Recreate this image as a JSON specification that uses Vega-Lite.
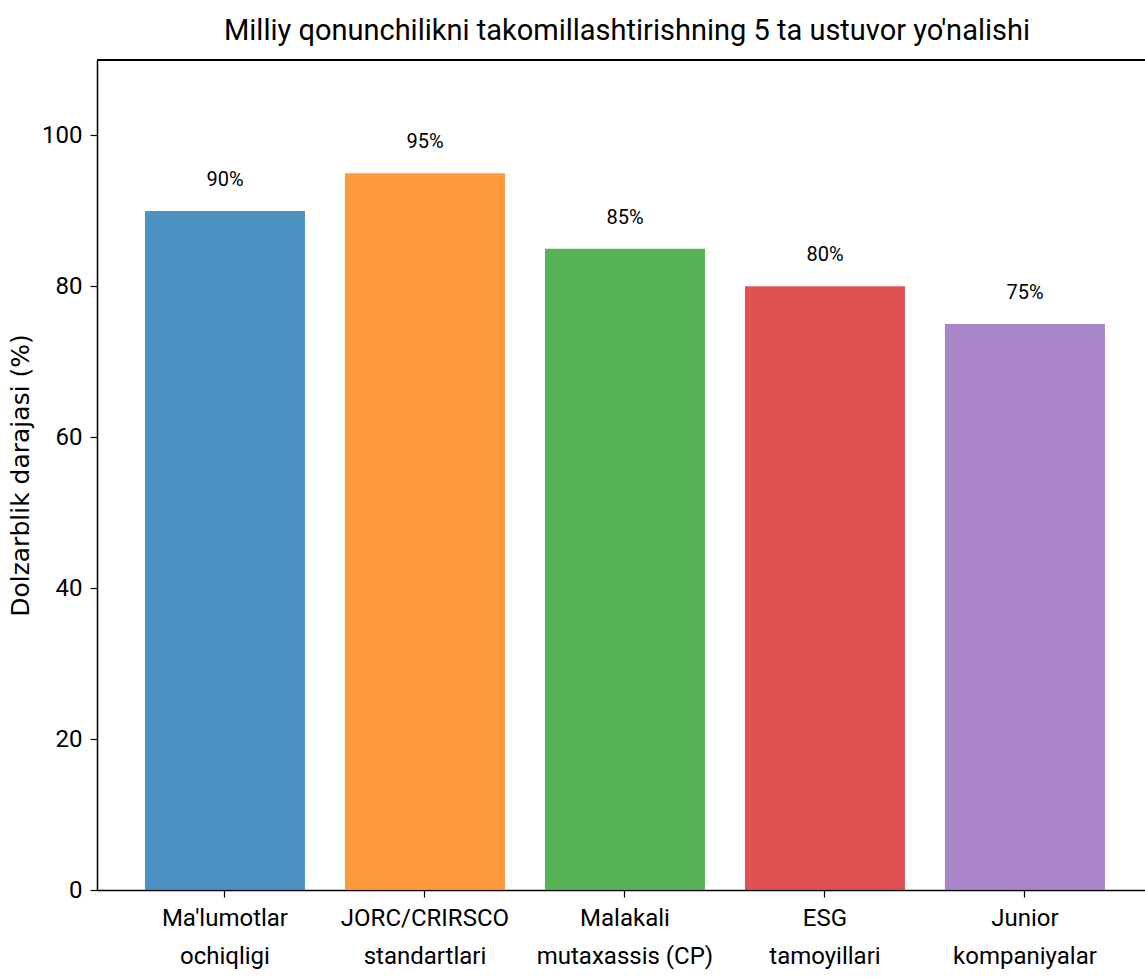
{
  "$schema": "https://vega.github.io/schema/vega-lite/v6.json",
  "autosize": "none",
  "width": 1048,
  "height": 830,
  "padding": {"left": 97, "top": 60, "right": 0, "bottom": 88},
  "background": "white",
  "title": {
    "text": "Milliy qonunchilikni takomillashtirishning 5 ta ustuvor yo'nalishi",
    "font": "Roboto",
    "fontSize": 29,
    "fontWeight": "normal",
    "color": "#000000",
    "anchor": "middle",
    "frame": "group",
    "offset": 13,
    "dx": 6
  },
  "config": {
    "view": {"stroke": null},
    "axis": {
      "domainColor": "#000000",
      "domainWidth": 1.5,
      "tickColor": "#000000",
      "tickWidth": 1.2,
      "tickSize": 7,
      "labelColor": "#000000",
      "labelFont": "Roboto",
      "labelFontSize": 24,
      "grid": false
    }
  },
  "data": {
    "values": [
      {"category": "Ma'lumotlar\nochiqligi", "value": 90, "label": "90%"},
      {"category": "JORC/CRIRSCO\nstandartlari", "value": 95, "label": "95%"},
      {"category": "Malakali\nmutaxassis (CP)", "value": 85, "label": "85%"},
      {"category": "ESG\ntamoyillari", "value": 80, "label": "80%"},
      {"category": "Junior\nkompaniyalar", "value": 75, "label": "75%"}
    ]
  },
  "layer": [
    {
      "mark": {"type": "bar", "opacity": 0.8},
      "encoding": {
        "x": {
          "field": "category",
          "type": "nominal",
          "sort": null,
          "scale": {"paddingInner": 0.2, "paddingOuter": 0.22, "align": 0.545},
          "axis": {
            "title": null,
            "labelAngle": 0,
            "labelPadding": 9,
            "labelExpr": "split(datum.label, '\\n')",
            "labelLineHeight": 38,
            "labelBaseline": "top"
          }
        },
        "y": {
          "field": "value",
          "type": "quantitative",
          "scale": {"domain": [0, 110], "nice": false},
          "axis": {
            "values": [0, 20, 40, 60, 80, 100],
            "title": "Dolzarblik darajasi (%)",
            "titleFont": "DejaVu Sans",
            "titleFontSize": 25,
            "titleFontWeight": "normal",
            "titleColor": "#000000",
            "titlePadding": 8,
            "labelPadding": 8
          }
        },
        "color": {
          "field": "category",
          "type": "nominal",
          "sort": null,
          "legend": null,
          "scale": {"range": ["#1f77b4", "#ff7f0e", "#2ca02c", "#d62728", "#9467bd"]}
        }
      }
    },
    {
      "mark": {"type": "text", "baseline": "bottom", "dy": -21, "font": "Roboto", "fontSize": 20, "color": "#000000"},
      "encoding": {
        "x": {"field": "category", "type": "nominal", "sort": null},
        "y": {"field": "value", "type": "quantitative"},
        "text": {"field": "label"}
      }
    },
    {
      "mark": {"type": "rule", "color": "#000000", "strokeWidth": 1.5},
      "encoding": {"y": {"datum": 110}}
    }
  ]
}
